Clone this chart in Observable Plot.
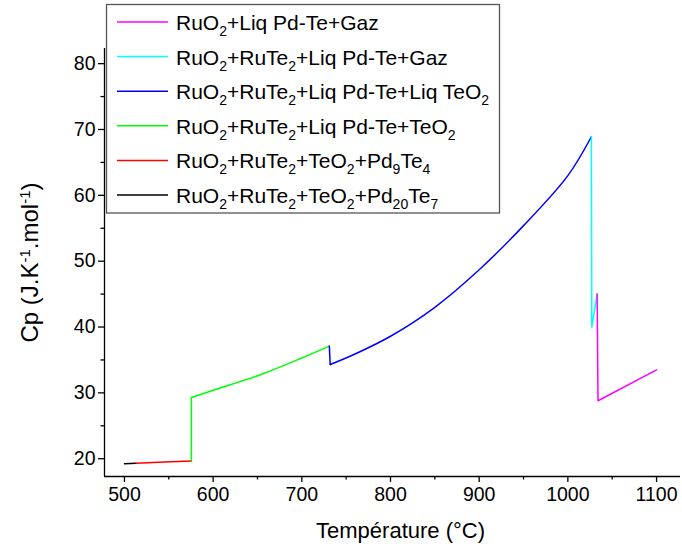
<!DOCTYPE html>
<html>
<head>
<meta charset="utf-8">
<script src="https://cdn.jsdelivr.net/npm/d3@7"></script>
<script src="https://cdn.jsdelivr.net/npm/@observablehq/plot@0.6"></script>
<style>
  html, body { margin: 0; padding: 0; background: #fff; }
  #wrap { position: relative; width: 682px; height: 553px; }
  #wrap svg.leg { position: absolute; left: 0; top: 0; }
</style>
</head>
<body>
<div id="wrap"></div>
<script>
// ---- data ----
const blackT = [500, 513];
const blackCp = [19.25, 19.3];
const redT = [513, 545, 575.5];
const redCp = [19.3, 19.5, 19.65];
const greenT = [575.5, 575.5, 600, 650, 700, 731];
const greenCp = [19.65, 29.3, 30.4, 32.6, 35.3, 37.1];
const blueT = [731, 732, 760, 800, 850, 900, 950, 1000, 1026.5];
const blueCp = [37.1, 34.3, 35.9, 38.6, 43.0, 48.7, 55.4, 63.0, 68.9];
const cyanT = [1026.5, 1027, 1033];
const cyanCp = [68.9, 40.0, 45.0];
const magentaT = [1033, 1034, 1100];
const magentaCp = [45.0, 28.8, 33.5];

const seriesNames = [
  "RuO2+Liq Pd-Te+Gaz",
  "RuO2+RuTe2+Liq Pd-Te+Gaz",
  "RuO2+RuTe2+Liq Pd-Te+Liq TeO2",
  "RuO2+RuTe2+Liq Pd-Te+TeO2",
  "RuO2+RuTe2+TeO2+Pd9Te4",
  "RuO2+RuTe2+TeO2+Pd20Te7"
];
const seriesColors = ["#ff00ff", "#00ffff", "#0000ff", "#00ff00", "#ff0000", "#000000"];
const xTicks = [500, 600, 700, 800, 900, 1000, 1100];
const xMinor = [550, 650, 750, 850, 950, 1050];
const yTicks = [20, 30, 40, 50, 60, 70, 80];
const yMinor = [25, 35, 45, 55, 65, 75];
const xLabel = "Température (°C)";
const yLabel = "Cp (J.K-1.mol-1)";

// ---- build table ----
const seriesData = [
  [magentaT, magentaCp], [cyanT, cyanCp], [blueT, blueCp],
  [greenT, greenCp], [redT, redCp], [blackT, blackCp]
];
const rows = [];
seriesData.forEach(([ts, cs], i) => {
  ts.forEach((t, j) => rows.push({t, cp: cs[j], s: seriesNames[i], k: j}));
});
const drawOrder = [5, 4, 3, 2, 1, 0];
// green and blue: first jump is straight, the rest is a smooth curve
const smoothFrom = {3: 1, 2: 1};

const xDom = [477.5, 1127];
const yDom = [17.3, 82.3];
const font = "'Liberation Sans', Arial, sans-serif";

const lineMarks = [];
drawOrder.forEach(i => {
  const d = rows.filter(r => r.s === seriesNames[i]);
  if (smoothFrom[i] !== undefined) {
    const s = smoothFrom[i];
    lineMarks.push(Plot.line(d.filter(r => r.k <= s), {x: "t", y: "cp", stroke: seriesColors[i], strokeWidth: 1.5}));
    lineMarks.push(Plot.line(d.filter(r => r.k >= s), {x: "t", y: "cp", stroke: seriesColors[i], strokeWidth: 1.5, curve: "catmull-rom"}));
  } else {
    lineMarks.push(Plot.line(d, {x: "t", y: "cp", stroke: seriesColors[i], strokeWidth: 1.5}));
  }
});

const chart = Plot.plot({
  width: 682,
  height: 553,
  marginLeft: 104,
  marginRight: 2,
  marginTop: 48,
  marginBottom: 77,
  style: {fontFamily: font, background: "#fff", color: "#000"},
  x: {domain: xDom, label: null},
  y: {domain: yDom, label: null},
  marks: [
    Plot.ruleX([xDom[0]], {stroke: "#000", strokeWidth: 1.3}),
    Plot.ruleY([yDom[0]], {stroke: "#000", strokeWidth: 1.3}),
    Plot.axisX(xTicks, {tickSize: 6, tickPadding: 5, fontSize: 19.5, stroke: "#000", strokeWidth: 1.3, label: null, tickFormat: d3.format("d")}),
    Plot.axisX(xMinor, {tickSize: 3.5, text: null, stroke: "#000", strokeWidth: 1.3, label: null}),
    Plot.axisY(yTicks, {tickSize: 6, tickPadding: 3, fontSize: 19.5, stroke: "#000", strokeWidth: 1.3, label: null, tickFormat: d3.format("d")}),
    Plot.axisY(yMinor, {tickSize: 3.5, text: null, stroke: "#000", strokeWidth: 1.3, label: null}),
    ...lineMarks,
    Plot.text([xLabel], {frameAnchor: "bottom", dy: 61, dx: 8, fontSize: 22, fill: "#000"}),
    Plot.text([yLabel], {frameAnchor: "left", dx: -74, rotate: -90, textAnchor: "middle", fontSize: 24, fill: "#000"})
  ]
});

document.getElementById("wrap").appendChild(chart);

// superscripts in the y label
const ns = "http://www.w3.org/2000/svg";
const ytext = Array.from(chart.querySelectorAll("text")).find(t => t.textContent === yLabel);
if (ytext) {
  ytext.textContent = "";
  const parts = [["Cp (J.K", 0], ["-1", 1], [".mol", 0], ["-1", 1], [")", 0]];
  parts.forEach(([s, sup]) => {
    const ts = document.createElementNS(ns, "tspan");
    ts.textContent = s;
    if (sup) { ts.setAttribute("baseline-shift", "super"); ts.setAttribute("font-size", "15"); }
    ytext.appendChild(ts);
  });
}

// legend (SVG overlay on top of the plot)
const legendParts = [
  [["RuO", 0], ["2", 1], ["+Liq Pd-Te+Gaz", 0]],
  [["RuO", 0], ["2", 1], ["+RuTe", 0], ["2", 1], ["+Liq Pd-Te+Gaz", 0]],
  [["RuO", 0], ["2", 1], ["+RuTe", 0], ["2", 1], ["+Liq Pd-Te+Liq TeO", 0], ["2", 1]],
  [["RuO", 0], ["2", 1], ["+RuTe", 0], ["2", 1], ["+Liq Pd-Te+TeO", 0], ["2", 1]],
  [["RuO", 0], ["2", 1], ["+RuTe", 0], ["2", 1], ["+TeO", 0], ["2", 1], ["+Pd", 0], ["9", 1], ["Te", 0], ["4", 1]],
  [["RuO", 0], ["2", 1], ["+RuTe", 0], ["2", 1], ["+TeO", 0], ["2", 1], ["+Pd", 0], ["20", 1], ["Te", 0], ["7", 1]]
];
const leg = d3.create("svg").attr("class", "leg").attr("width", 682).attr("height", 553)
  .attr("font-family", font);
leg.append("rect").attr("x", 106.5).attr("y", 4.5).attr("width", 393).attr("height", 208.5)
  .attr("fill", "#fff").attr("stroke", "#555").attr("stroke-width", 1.3);
legendParts.forEach((parts, i) => {
  const base = 30 + i * 34.6;
  const mid = 22 + i * 34.6;
  leg.append("line").attr("x1", 117).attr("x2", 168).attr("y1", mid).attr("y2", mid)
    .attr("stroke", seriesColors[i]).attr("stroke-width", 1.5);
  const t = leg.append("text").attr("x", 176).attr("y", base).attr("font-size", 21).attr("fill", "#000");
  let shift = 0;
  parts.forEach(([s, sub]) => {
    const ts = t.append("tspan").text(s);
    if (sub) {
      ts.attr("font-size", 14).attr("dy", shift === 0 ? 6 : 0);
      shift = 6;
    } else {
      ts.attr("dy", shift !== 0 ? -6 : 0);
      shift = 0;
    }
  });
});
document.getElementById("wrap").appendChild(leg.node());
</script>
</body>
</html>
